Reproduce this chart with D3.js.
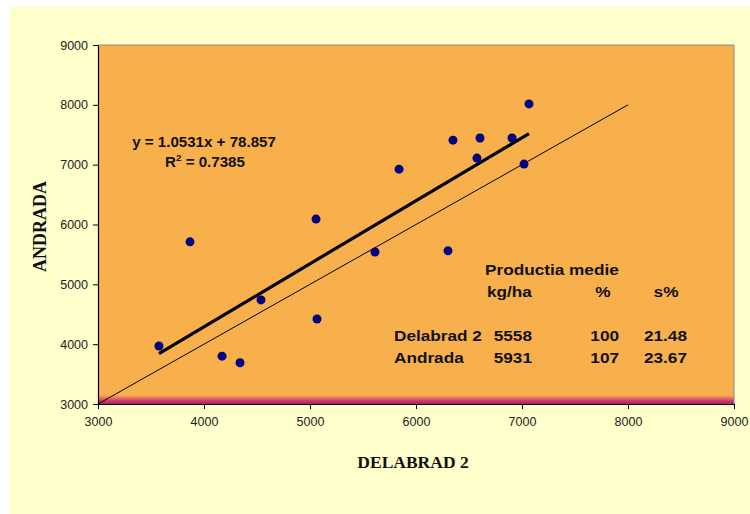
<!DOCTYPE html>
<html>
<head>
<meta charset="utf-8">
<script src="https://cdn.jsdelivr.net/npm/d3@7/dist/d3.min.js"></script>
<style>
  html, body { margin: 0; padding: 0; background: #ffffff; }
  svg { display: block; }
</style>
</head>
<body>
<svg id="chart" width="750" height="514"></svg>
<script>
// ---- data ----
const xVals = [3575, 3868, 4170, 4340, 4538, 5057, 5066, 5613, 5840, 6302, 6349, 6575, 6604, 6906, 7019, 7066];
const yVals = [3970, 5710, 3800, 3690, 4740, 6090, 4420, 5540, 6925, 5560, 7410, 7110, 7445, 7445, 7010, 8015];
const xTicks = [3000, 4000, 5000, 6000, 7000, 8000, 9000];
const yTicks = [3000, 4000, 5000, 6000, 7000, 8000, 9000];
const slope = 1.0531;
const intercept = 78.857;
const rSquared = 0.7385;
const refLine = [3000, 8000];
const xTitle = "DELABRAD 2";
const yTitle = "ANDRADA";
const tableTitle = "Productia medie";
const tableHeads = ["kg/ha", "%", "s%"];
const tableRows = ["Delabrad 2", "Andrada"];
const kgha = [5558, 5931];
const pct = [100, 107];
const sPct = ["21.48", "23.67"];

// ---- layout ----
const svg = d3.select("#chart");
const L = 98, R = 734, T = 45, B = 404;

svg.append("rect").attr("x", 10).attr("y", 7).attr("width", 740).attr("height", 507).attr("fill", "#FFFFCC");

const x = d3.scaleLinear().domain([3000, 9000]).range([L, R]);
const y = d3.scaleLinear().domain([3000, 9000]).range([B, T]);

const defs = svg.append("defs");
const grad = defs.append("linearGradient").attr("id", "band").attr("x1", 0).attr("y1", 0).attr("x2", 0).attr("y2", 1);
grad.append("stop").attr("offset", "0%").attr("stop-color", "#F8B04C");
grad.append("stop").attr("offset", "30%").attr("stop-color", "#E87A5E");
grad.append("stop").attr("offset", "65%").attr("stop-color", "#CC3A6C");
grad.append("stop").attr("offset", "100%").attr("stop-color", "#B01866");
defs.append("clipPath").attr("id", "clip").append("rect").attr("x", L).attr("y", T).attr("width", R - L).attr("height", B - T);

// plot background
svg.append("rect").attr("x", L).attr("y", T).attr("width", R - L).attr("height", B - T).attr("fill", "#F8B04C");
svg.append("rect").attr("x", L).attr("y", B - 9).attr("width", R - L).attr("height", 9).attr("fill", "url(#band)");
svg.append("path").attr("d", `M${L},${T}H${R}V${B}`).attr("fill", "none").attr("stroke", "#888").attr("stroke-width", 1);

// axes
const xAxis = svg.append("g").attr("transform", `translate(0,${B})`)
  .call(d3.axisBottom(x).tickValues(xTicks).tickSize(5).tickSizeOuter(0).tickFormat(d3.format("d")));
const yAxis = svg.append("g").attr("transform", `translate(${L},0)`)
  .call(d3.axisLeft(y).tickValues(yTicks).tickSize(5).tickSizeOuter(0).tickFormat(d3.format("d")));
[xAxis, yAxis].forEach(a => {
  a.select(".domain").attr("stroke", "#000").attr("stroke-width", 1.2);
  a.selectAll(".tick line").attr("stroke", "#000");
  a.selectAll(".tick text").attr("fill", "#222").style("font-family", "Arial, 'Liberation Sans', sans-serif").style("font-size", "12.5px");
});
xAxis.selectAll(".tick text").attr("dy", "1.15em");
yAxis.selectAll(".tick text").attr("x", -10);

const plot = svg.append("g").attr("clip-path", "url(#clip)");
// reference 1:1 line
plot.append("line")
  .attr("x1", x(refLine[0])).attr("y1", y(refLine[0]))
  .attr("x2", x(refLine[1])).attr("y2", y(refLine[1]))
  .attr("stroke", "#000").attr("stroke-width", 1);
// trend line
const xmin = d3.min(xVals), xmax = d3.max(xVals);
plot.append("line")
  .attr("x1", x(xmin)).attr("y1", y(slope * xmin + intercept))
  .attr("x2", x(xmax)).attr("y2", y(slope * xmax + intercept))
  .attr("stroke", "#000").attr("stroke-width", 3.2);
// points
plot.selectAll("circle").data(xVals.map((v, i) => [v, yVals[i]])).enter().append("circle")
  .attr("cx", d => x(d[0])).attr("cy", d => y(d[1])).attr("r", 4.5).attr("fill", "#000080");

// axis titles
svg.append("text").attr("x", (L + R) / 2 - 3).attr("y", 468).attr("text-anchor", "middle")
  .style("font-family", "'Times New Roman', 'Liberation Serif', serif").style("font-weight", "bold").style("font-size", "17.5px")
  .attr("fill", "#111").text(xTitle);
svg.append("text").attr("transform", `translate(46,${(T + B) / 2 + 2}) rotate(-90)`).attr("text-anchor", "middle")
  .style("font-family", "'Times New Roman', 'Liberation Serif', serif").style("font-weight", "bold").style("font-size", "18px")
  .attr("fill", "#111").text(yTitle);

// text helper with horizontal stretch
function label(tx, ty, str, anchor, size, sx) {
  svg.append("text").attr("transform", `translate(${tx},${ty}) scale(${sx},1)`)
    .attr("text-anchor", anchor)
    .style("font-family", "Arial, 'Liberation Sans', sans-serif").style("font-weight", "bold").style("font-size", size + "px")
    .attr("fill", "#111").text(str);
}
// equation
label(204, 147, `y = ${slope}x + ${intercept}`, "middle", 14, 1.08);
const r2 = svg.append("text").attr("transform", `translate(205,167) scale(1.08,1)`).attr("text-anchor", "middle")
  .style("font-family", "Arial, 'Liberation Sans', sans-serif").style("font-weight", "bold").style("font-size", "14px").attr("fill", "#111");
r2.append("tspan").text("R");
r2.append("tspan").attr("dy", -6).style("font-size", "9px").text("2");
r2.append("tspan").attr("dy", 6).text(` = ${rSquared}`);

// table
const ts = 15.5, sx = 1.11;
label(485, 275, tableTitle, "start", ts, sx);
label(487, 297, tableHeads[0], "start", ts, sx);
label(603, 297, tableHeads[1], "middle", ts, sx);
label(666, 297, tableHeads[2], "middle", ts, sx);
tableRows.forEach((r, i) => {
  const by = 341 + i * 22;
  label(394, by, r, "start", ts, sx);
  label(532, by, String(kgha[i]), "end", ts, sx);
  label(619, by, String(pct[i]), "end", ts, sx);
  label(687, by, sPct[i], "end", ts, sx);
});
</script>
</body>
</html>
